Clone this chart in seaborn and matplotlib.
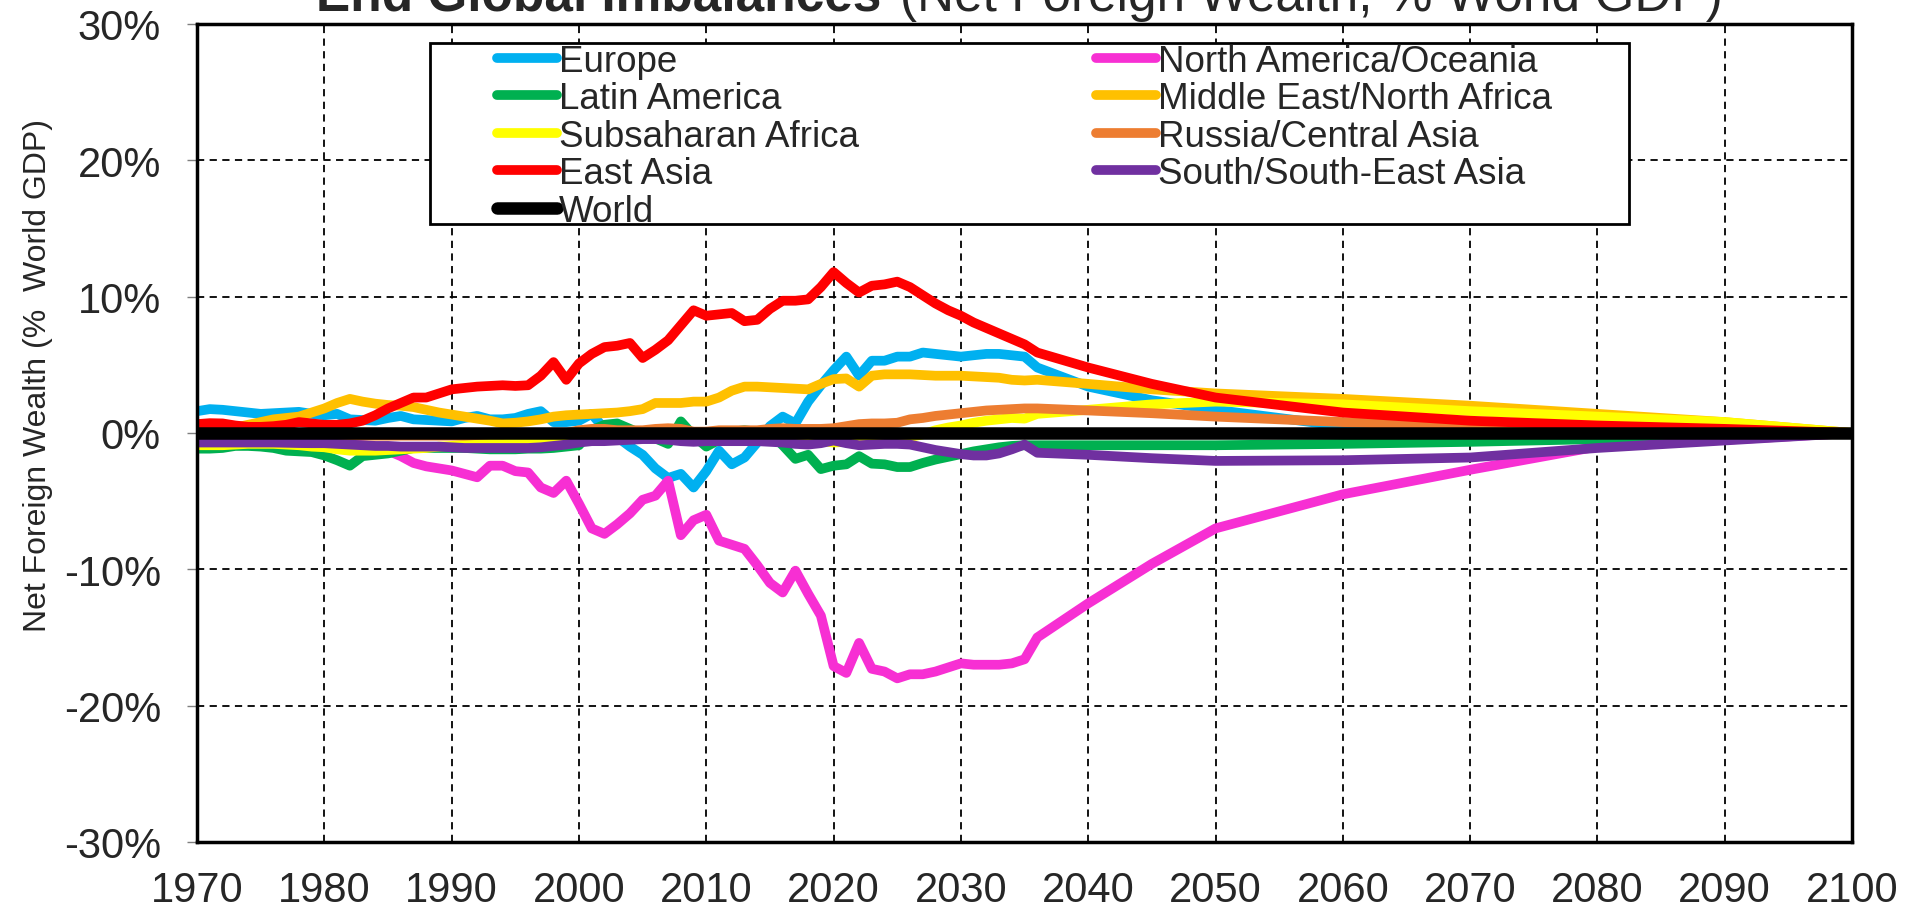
import matplotlib
matplotlib.use("Agg")
import seaborn as sns
import matplotlib.pyplot as plt
from matplotlib.lines import Line2D
from matplotlib.patches import Rectangle
from matplotlib.ticker import PercentFormatter

# annual 1970-2036, then projection points
years = list(range(1970, 2037)) + [2040, 2045, 2050, 2060, 2070, 2080, 2090, 2100]

europe = [1.6, 1.75, 1.7, 1.6, 1.5, 1.4, 1.45, 1.5, 1.55, 1.4,
          1.3, 1.4, 1.0, 0.95, 0.9, 1.1, 1.25, 1.0, 0.95, 0.9,
          0.85, 1.1, 1.25, 1.0, 1.0, 1.1, 1.4, 1.6, 0.8, 0.8,
          0.9, 1.4, 0.3, -0.3, -1.0, -1.6, -2.6, -3.3, -3.0, -4.0,
          -2.8, -1.3, -2.3, -1.8, -0.7, 0.5, 1.2, 0.7, 2.3, 3.5,
          4.6, 5.6, 4.2, 5.3, 5.3, 5.6, 5.6, 5.9, 5.8, 5.7,
          5.6, 5.7, 5.8, 5.8, 5.7, 5.6, 4.8,
          3.4, 2.4, 1.7, 0.5, 0.2, 0.1, 0.05, 0.0]

north_america = [-0.4, -0.4, -0.5, -0.5, -0.6, -0.6, -0.6, -0.7, -0.7, -0.7,
                 -0.8, -0.8, -0.8, -0.9, -1.0, -1.3, -1.7, -2.2, -2.45, -2.6,
                 -2.75, -3.0, -3.25, -2.4, -2.4, -2.8, -2.9, -4.0, -4.4, -3.5,
                 -5.2, -7.0, -7.4, -6.7, -5.9, -4.9, -4.6, -3.5, -7.5, -6.4,
                 -6.0, -7.9, -8.2, -8.5, -9.7, -11.0, -11.7, -10.1, -11.8, -13.4,
                 -17.1, -17.6, -15.4, -17.3, -17.5, -18.0, -17.7, -17.7, -17.5, -17.2,
                 -16.9, -17.0, -17.0, -17.0, -16.9, -16.6, -15.0,
                 -12.5, -9.6, -7.0, -4.5, -2.7, -1.0, -0.5, 0.0]

latin_america = [-1.15, -1.15, -1.1, -0.95, -0.95, -1.0, -1.1, -1.3, -1.35, -1.4,
                 -1.65, -2.0, -2.4, -1.7, -1.6, -1.5, -1.3, -1.1, -1.1, -1.1,
                 -1.1, -1.1, -1.15, -1.2, -1.2, -1.2, -1.15, -1.15, -1.1, -1.0,
                 -0.9, 0.2, 0.6, 0.7, 0.3, -0.1, -0.4, -0.8, 0.85, -0.2,
                 -1.0, -0.5, 0.1, 0.2, 0.1, 0.0, -0.9, -1.9, -1.6, -2.65,
                 -2.4, -2.3, -1.7, -2.25, -2.3, -2.5, -2.5, -2.2, -1.95, -1.75,
                 -1.55, -1.35, -1.2, -1.05, -0.95, -0.9, -0.9,
                 -0.9, -0.9, -0.9, -0.8, -0.65, -0.45, -0.2, 0.0]

mena = [0.0, 0.1, 0.2, 0.4, 0.6, 0.8, 1.0, 1.1, 1.2, 1.5,
        1.8, 2.2, 2.5, 2.3, 2.15, 2.05, 2.0, 1.9, 1.7, 1.5,
        1.35, 1.2, 1.05, 0.9, 0.7, 0.75, 0.85, 1.0, 1.2, 1.3,
        1.35, 1.4, 1.45, 1.5, 1.6, 1.75, 2.2, 2.2, 2.2, 2.3,
        2.3, 2.6, 3.1, 3.4, 3.4, 3.35, 3.3, 3.25, 3.2, 3.6,
        3.95, 4.0, 3.4, 4.2, 4.3, 4.3, 4.3, 4.25, 4.2, 4.2,
        4.2, 4.15, 4.1, 4.05, 3.9, 3.85, 3.9,
        3.6, 3.2, 2.9, 2.5, 2.0, 1.4, 0.8, 0.0]

subsaharan = [-0.9, -0.9, -0.9, -0.85, -0.8, -0.8, -0.8, -0.85, -0.9, -1.0,
              -1.05, -1.2, -1.3, -1.3, -1.3, -1.25, -1.2, -1.15, -1.1, -1.0,
              -0.95, -0.85, -0.75, -0.65, -0.6, -0.55, -0.55, -0.55, -0.55, -0.55,
              -0.5, -0.5, -0.45, -0.45, -0.4, -0.35, -0.3, -0.3, -0.35, -0.4,
              -0.4, -0.4, -0.4, -0.4, -0.4, -0.4, -0.4, -0.35, -0.5, -0.6,
              -0.7, -0.65, -0.6, -0.55, -0.5, -0.45, -0.3, -0.1, 0.2, 0.4,
              0.55, 0.75, 0.9, 1.0, 1.1, 1.05, 1.4,
              1.7, 2.1, 2.3, 2.1, 1.6, 1.2, 0.8, 0.0]

russia = [-0.2, -0.2, -0.2, -0.2, -0.2, -0.2, -0.2, -0.2, -0.2, -0.2,
          -0.2, -0.2, -0.2, -0.2, -0.2, -0.2, -0.2, -0.2, -0.2, -0.2,
          -0.2, -0.2, -0.15, -0.1, -0.1, -0.05, 0.0, 0.0, 0.0, 0.0,
          0.2, 0.3, 0.3, 0.2, 0.2, 0.2, 0.3, 0.35, 0.3, 0.1,
          0.1, 0.2, 0.2, 0.2, 0.2, 0.3, 0.35, 0.3, 0.3, 0.3,
          0.35, 0.5, 0.65, 0.7, 0.7, 0.75, 1.0, 1.1, 1.25, 1.35,
          1.45, 1.55, 1.65, 1.7, 1.75, 1.8, 1.8,
          1.65, 1.45, 1.2, 0.8, 0.45, 0.2, 0.1, 0.0]

east_asia = [0.65, 0.72, 0.7, 0.55, 0.45, 0.45, 0.5, 0.6, 0.8, 0.7,
             0.6, 0.6, 0.7, 0.9, 1.3, 1.8, 2.2, 2.6, 2.6, 2.9,
             3.2, 3.3, 3.4, 3.45, 3.5, 3.45, 3.5, 4.2, 5.2, 3.9,
             5.1, 5.8, 6.3, 6.4, 6.6, 5.5, 6.1, 6.8, 7.9, 9.0,
             8.6, 8.7, 8.8, 8.2, 8.3, 9.1, 9.7, 9.7, 9.8, 10.7,
             11.8, 11.0, 10.3, 10.8, 10.9, 11.1, 10.7, 10.1, 9.5, 9.0,
             8.6, 8.1, 7.7, 7.3, 6.9, 6.5, 5.9,
             4.8, 3.6, 2.6, 1.5, 0.9, 0.55, 0.3, 0.0]

south_asia = [-0.7, -0.7, -0.7, -0.7, -0.7, -0.7, -0.7, -0.72, -0.74, -0.75,
              -0.75, -0.8, -0.85, -0.9, -0.95, -0.95, -1.0, -1.0, -1.0, -1.0,
              -1.05, -1.1, -1.1, -1.1, -1.1, -1.1, -1.1, -1.05, -0.95, -0.85,
              -0.7, -0.6, -0.6, -0.55, -0.5, -0.45, -0.45, -0.5, -0.6, -0.65,
              -0.6, -0.6, -0.6, -0.6, -0.6, -0.65, -0.7, -0.8, -0.85, -0.75,
              -0.55, -0.75, -0.9, -0.85, -0.8, -0.8, -0.85, -1.05, -1.25, -1.4,
              -1.55, -1.65, -1.65, -1.5, -1.2, -0.85, -1.45,
              -1.6, -1.85, -2.05, -2.0, -1.8, -1.1, -0.55, 0.0]

world_years = [1970, 2100]
world = [0.0, 0.0]

# drawing order = Excel series order (later on top)
series = [
    ("Europe", europe, "#00B0F0"),
    ("North America/Oceania", north_america, "#F72FD3"),
    ("Latin America", latin_america, "#00B050"),
    ("Middle East/North Africa", mena, "#FFC000"),
    ("Subsaharan Africa", subsaharan, "#FFFF00"),
    ("Russia/Central Asia", russia, "#ED7D31"),
    ("East Asia", east_asia, "#FF0000"),
    ("South/South-East Asia", south_asia, "#7030A0"),
]
col1 = ["Europe", "Latin America", "Subsaharan Africa", "East Asia", "World"]
col2 = ["North America/Oceania", "Middle East/North Africa", "Russia/Central Asia", "South/South-East Asia"]

x_ticks = list(range(1970, 2101, 10))
y_ticks = [-30, -20, -10, 0, 10, 20, 30]

sns.set_style("white")
plt.rcParams["font.family"] = ["Liberation Sans", "DejaVu Sans"]
plt.rcParams["axes.unicode_minus"] = False

fig = plt.figure(figsize=(19.21, 9.12), dpi=100)
ax = fig.add_axes([0.1026, 0.0757, 0.8615, 0.8969])

LW = 7
handles = {}
for name, vals, color in series:
    sns.lineplot(x=years, y=vals, color=color, linewidth=LW, ax=ax, legend=False)
    handles[name] = Line2D([0], [0], color=color, lw=LW)
sns.lineplot(x=world_years, y=world, color="black", linewidth=9, ax=ax, legend=False)
handles["World"] = Line2D([0], [0], color="black", lw=9)

ax.set_xlim(1970, 2100)
ax.set_ylim(-30, 30)
ax.set_xticks(x_ticks)
ax.set_yticks(y_ticks)
ax.yaxis.set_major_formatter(PercentFormatter(xmax=100, decimals=0))
ax.set_xlabel("")
ax.set_ylabel("Net Foreign Wealth (%  World GDP)", fontsize=23)
ax.yaxis.set_label_coords(-0.087, 0.571)

ax.set_axisbelow(True)
ax.grid(True, color="black", linestyle=(0, (4, 3)), linewidth=1.3)
for s in ax.spines.values():
    s.set_visible(True)
    s.set_color("black")
    s.set_linewidth(2.5)
ax.tick_params(axis="x", length=0, pad=20, labelsize=30)
ax.tick_params(axis="y", length=7, width=1, color="#7f7f7f", pad=19,
               labelsize=30, direction="out", left=True)

# legend box
ax.add_patch(Rectangle((0.141, 0.755), 0.724, 0.222, transform=ax.transAxes,
                       facecolor="white", edgecolor="black", lw=2, zorder=4))
leg_kw = dict(loc="upper left", frameon=False, fontsize=26.5, handlelength=1.65,
              handletextpad=0.05, labelspacing=0.07, borderpad=0, borderaxespad=0)
leg1 = ax.legend([handles[n] for n in col1], col1, bbox_to_anchor=(0.181, 0.976), **leg_kw)
ax.add_artist(leg1)
ax.legend([handles[n] for n in col2], col2, bbox_to_anchor=(0.543, 0.976), **leg_kw)

# title, partly cut off at the top like the original
fig.text(0.459, 0.9880, "End Global Imbalances", ha="right", va="baseline",
         fontsize=37, fontweight="bold")
fig.text(0.4685, 0.9880, "(Net Foreign Wealth, % World GDP)", ha="left", va="baseline",
         fontsize=37)

fig.savefig("out.png", dpi=100)
